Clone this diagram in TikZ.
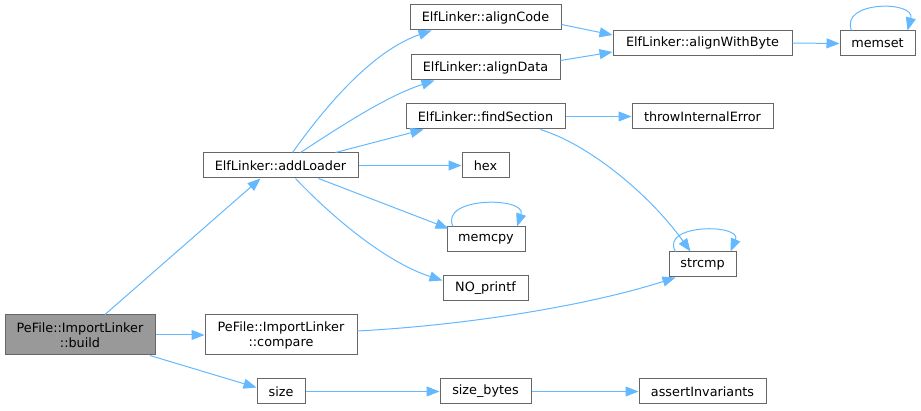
\documentclass[tikz,border=0pt]{standalone}
\usepackage{fontspec}
\setmainfont{DejaVu Sans}
\usetikzlibrary{arrows.meta}
\definecolor{edgec}{HTML}{63B8FF}
\definecolor{borderc}{HTML}{666666}
\definecolor{curfill}{HTML}{999999}
\tikzset{
  box/.style={draw=borderc, line width=1pt, fill=white, inner sep=0pt, minimum height=25pt, align=center, font=\fontsize{12.8}{15}\selectfont},
  cur/.style={box, fill=curfill, minimum height=40pt},
  two/.style={box, minimum height=40pt},
  edge/.style={draw=edgec, line width=1pt, -{Triangle[length=13pt,width=10pt]}},
}
\begin{document}
\begin{tikzpicture}[x=1pt,y=-1pt]
\useasboundingbox (0,0) rectangle (921,411);
\node[cur, minimum width=150pt] (build) at (80,335) {PeFile::ImportLinker\\::build};
\node[two, minimum width=152pt] (compare) at (281,335) {PeFile::ImportLinker\\::compare};
\node[box, minimum width=48pt] (size) at (281,391.5) {size};
\node[box, minimum width=91pt] (sizeb) at (485.5,391.5) {size\_bytes};
\node[box, minimum width=127pt] (assert) at (702.5,391.5) {assertInvariants};
\node[box, minimum width=155pt] (addl) at (280.5,165.5) {ElfLinker::addLoader};
\node[box, minimum width=151pt] (acode) at (485.5,17.5) {ElfLinker::alignCode};
\node[box, minimum width=149pt] (adata) at (485.5,67.5) {ElfLinker::alignData};
\node[box, minimum width=159pt] (finds) at (485.5,116.5) {ElfLinker::findSection};
\node[box, minimum width=47pt] (hex) at (485.5,165.5) {hex};
\node[box, minimum width=78pt] (memcpy) at (486,239.5) {memcpy};
\node[box, minimum width=85pt] (nop) at (485.5,288.5) {NO\_printf};
\node[box, minimum width=67pt] (strcmp) at (702.5,264.5) {strcmp};
\node[box, minimum width=179pt] (awb) at (702.5,43) {ElfLinker::alignWithByte};
\node[box, minimum width=75pt] (memset) at (877.5,43.5) {memset};
\node[box, minimum width=141pt] (tie) at (702.5,116.5) {throwInternalError};

% edges from build
\draw[edge] ([xshift=25pt]build.north) -- ([xshift=-20pt]addl.south);
\draw[edge] (build.east) -- (compare.west);
\draw[edge] ([xshift=70pt]build.south) -- ([yshift=4pt]size.west);
% addLoader edges
\draw[edge] ([xshift=12pt]addl.north) .. controls (330,100) and (375,50) .. ([xshift=-54pt]acode.south);
\draw[edge] ([xshift=20pt]addl.north) .. controls (350,120) and (390,95) .. ([xshift=-51pt]adata.south);
\draw[edge] ([xshift=55pt]addl.north) -- ([xshift=-62pt]finds.south);
\draw[edge] (addl.east) -- (hex.west);
\draw[edge] ([xshift=38pt]addl.south) -- ([xshift=2pt,yshift=-2pt]memcpy.north west);
\draw[edge] ([xshift=15pt]addl.south) .. controls (330,215) and (385,262) .. ([yshift=8pt]nop.west);
% to alignWithByte
\draw[edge] ([yshift=-7pt]acode.east) -- ([yshift=8pt]awb.west);
\draw[edge] ([yshift=7pt]adata.east) -- ([yshift=-9pt]awb.west);
\draw[edge] (awb.east) -- (memset.west);
\draw[edge] (finds.east) -- (tie.west);
\draw[edge] ([xshift=55pt]finds.south) .. controls (590,145) and (650,195) .. ([xshift=-12pt]strcmp.north);
\draw[edge] ([yshift=4pt]compare.east) .. controls (470,325) and (590,305) .. ([xshift=-27pt]strcmp.south);
\draw[edge] (size.east) -- (sizeb.west);
\draw[edge] (sizeb.east) -- (assert.west);
% self loops
\draw[edge] ([xshift=-26pt]memset.north) .. controls +(-12,-30) and +(8,-30) .. ([xshift=30pt]memset.north);
\draw[edge] ([xshift=-33pt]memcpy.north) .. controls +(-14,-30) and +(10,-30) .. ([xshift=31pt]memcpy.north);
\draw[edge] ([xshift=-27pt]strcmp.north) .. controls +(-16,-28) and +(12,-28) .. ([xshift=28pt]strcmp.north);
\end{tikzpicture}
\end{document}
